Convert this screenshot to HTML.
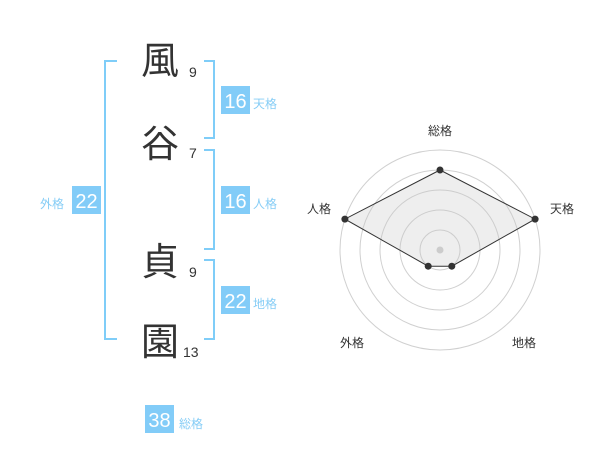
<!DOCTYPE html>
<html><head><meta charset="utf-8"><style>
html,body{margin:0;padding:0;background:#fff;width:600px;height:470px;overflow:hidden}
svg{display:block}
.k{font-family:"Liberation Sans","Noto Sans CJK JP",sans-serif;font-size:38px;fill:#333;text-anchor:middle}
.n{font-family:"Liberation Sans",sans-serif;font-size:14px;fill:#333}
.b{font-family:"Liberation Sans",sans-serif;font-size:20px;fill:#fff;text-anchor:middle}
.l{font-family:"Liberation Sans","Noto Sans CJK JP",sans-serif;font-size:12px;fill:#86cdf6}
.r{font-family:"Liberation Sans","Noto Sans CJK JP",sans-serif;font-size:12px;fill:#333;text-anchor:middle}
</style></head><body>
<svg width="600" height="470" viewBox="0 0 600 470" xmlns="http://www.w3.org/2000/svg">
<g fill="none" stroke="#7fcdf8" stroke-width="2">
<polyline points="117,61 105,61 105,339 117,339"/>
<polyline points="204,61 214,61 214,138 204,138"/>
<polyline points="204,150 214,150 214,249 204,249"/>
<polyline points="204,260 214,260 214,339 204,339"/>
</g>
<text class="k" x="160" y="74">風</text>
<text class="k" x="160" y="157">谷</text>
<text class="k" x="160" y="275">貞</text>
<text class="k" x="160" y="355">園</text>
<text class="n" x="189" y="77">9</text>
<text class="n" x="189" y="158">7</text>
<text class="n" x="189" y="277">9</text>
<text class="n" x="183" y="357">13</text>
<g fill="#82ccf8">
<rect x="221" y="86" width="29" height="28"/>
<rect x="221" y="186" width="29" height="28"/>
<rect x="221" y="286" width="29" height="28"/>
<rect x="72" y="186" width="29" height="28"/>
<rect x="145" y="405" width="29" height="28"/>
</g>
<text class="b" x="235.5" y="108">16</text>
<text class="b" x="235.5" y="208">16</text>
<text class="b" x="235.5" y="308">22</text>
<text class="b" x="86.5" y="208">22</text>
<text class="b" x="159.5" y="427">38</text>
<text class="l" x="253" y="108">天格</text>
<text class="l" x="253" y="208">人格</text>
<text class="l" x="253" y="308">地格</text>
<text class="l" x="40" y="208">外格</text>
<text class="l" x="179" y="428">総格</text>
<g fill="none" stroke="#d0d0d0" stroke-width="1">
<circle cx="440" cy="250" r="20"/>
<circle cx="440" cy="250" r="40"/>
<circle cx="440" cy="250" r="60"/>
<circle cx="440" cy="250" r="80"/>
<circle cx="440" cy="250" r="100"/>
</g>
<polygon points="440,170 535.1,219.1 451.8,266.2 428.2,266.2 344.9,219.1" fill="rgba(200,200,200,0.3)" stroke="#333" stroke-width="1"/>
<circle cx="440" cy="250" r="3.5" fill="#ccc"/>
<g fill="#333">
<circle cx="440" cy="170" r="3.5"/>
<circle cx="535.1" cy="219.1" r="3.5"/>
<circle cx="451.8" cy="266.2" r="3.5"/>
<circle cx="428.2" cy="266.2" r="3.5"/>
<circle cx="344.9" cy="219.1" r="3.5"/>
</g>
<text class="r" x="440" y="135">総格</text>
<text class="r" x="562" y="213">天格</text>
<text class="r" x="319" y="213">人格</text>
<text class="r" x="352" y="347">外格</text>
<text class="r" x="524" y="347">地格</text>
</svg>
</body></html>
